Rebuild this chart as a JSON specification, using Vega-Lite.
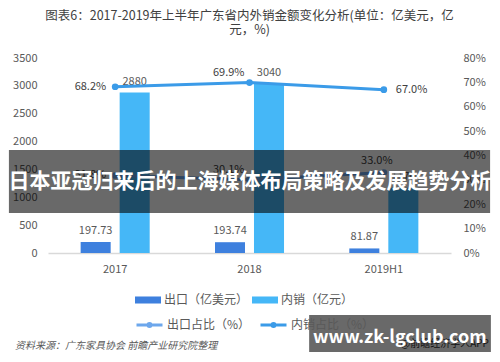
{
  "$schema": "https://vega.github.io/schema/vega-lite/v6.json",
  "width": 403,
  "height": 195,
  "autosize": {"type": "none"},
  "padding": {"left": 48, "top": 58, "right": 49, "bottom": 109},
  "background": "white",
  "config": {
    "font": "Noto Sans CJK SC",
    "view": {"stroke": null},
    "axis": {"labelFont": "Noto Sans CJK SC", "labelFontSize": 11, "labelColor": "#595959", "grid": false, "ticks": false, "title": null},
    "legend": {"padding": 0}
  },
  "title": {
    "text": ["图表6：2017-2019年上半年广东省内外销金额变化分析(单位：亿美元，亿", "元，%)"],
    "fontSize": 12.5,
    "fontWeight": "normal",
    "color": "#404040",
    "anchor": "middle",
    "offset": 16,
    "lineHeight": 14
  },
  "data": {
    "values": [
      {"year": "2017", "出口": 197.73, "内销": 2880, "出口占比": 0.318, "内销占比": 0.682},
      {"year": "2018", "出口": 193.74, "内销": 3040, "出口占比": 0.301, "内销占比": 0.699},
      {"year": "2019H1", "出口": 81.87, "内销": 1170, "出口占比": 0.330, "内销占比": 0.670}
    ]
  },
  "layer": [
    {
      "layer": [
        {
          "transform": [{"fold": ["出口", "内销"], "as": ["series", "amount"]}],
          "layer": [
            {
              "mark": {"type": "bar"},
              "encoding": {
                "fill": {
                  "field": "series", "type": "nominal",
                  "scale": {"domain": ["出口", "内销"], "range": ["#3e80de", "#45b7f7"]},
                  "legend": {
                    "orient": "none", "legendX": 87, "legendY": 229, "direction": "horizontal", "columns": 2, "title": null,
                    "symbolType": "M-1,-0.27H1V0.27H-1Z", "symbolSize": 676, "symbolStrokeWidth": 0,
                    "labelFontSize": 12, "labelColor": "#595959", "labelOffset": 3, "columnPadding": 3,
                    "labelExpr": "datum.label == '出口' ? '出口（亿美元）' : '内销（亿元）'"
                  }
                }
              }
            },
            {
              "mark": {"type": "text", "baseline": "bottom", "dy": -6, "fontSize": 11, "color": "#595959"},
              "encoding": {"text": {"field": "amount", "type": "nominal"}}
            }
          ],
          "encoding": {
            "x": {
              "field": "year", "type": "nominal", "sort": null,
              "scale": {"paddingInner": 0.486, "paddingOuter": 0.243},
              "axis": {"labelAngle": 0, "domainColor": "#d9d9d9", "domainWidth": 1.5, "labelPadding": 10, "orient": "bottom"}
            },
            "xOffset": {"field": "series", "type": "nominal", "sort": ["出口", "内销"], "scale": {"paddingInner": 0.23, "paddingOuter": 0}},
            "y": {
              "field": "amount", "type": "quantitative",
              "scale": {"domain": [0, 3500]},
              "axis": {"orient": "left", "format": "d", "values": [0, 500, 1000, 1500, 2000, 2500, 3000, 3500], "domain": false, "labelPadding": 11}
            }
          }
        },
        {
          "transform": [{"fold": ["出口占比", "内销占比"], "as": ["share_series", "share"]}],
          "encoding": {
            "x": {"field": "year", "type": "nominal", "sort": null},
            "y": {
              "field": "share", "type": "quantitative",
              "scale": {"domain": [0, 0.8]},
              "axis": {"orient": "right", "format": ".0%", "values": [0, 0.1, 0.2, 0.3, 0.4, 0.5, 0.6, 0.7, 0.8], "domain": false, "labelPadding": 12}
            }
          },
          "layer": [
            {
              "mark": {"type": "line", "strokeWidth": 3},
              "encoding": {
                "color": {
                  "field": "share_series", "type": "nominal",
                  "scale": {"domain": ["出口占比", "内销占比"], "range": ["#6da7ec", "#3b9be8"]},
                  "legend": {
                    "orient": "none", "legendX": 87, "legendY": 252, "direction": "horizontal", "columns": 2, "title": null,
                    "symbolType": "M-1,0H1M0.12,0A0.12,0.12,0,1,1,-0.12,0A0.12,0.12,0,1,1,0.12,0",
                    "symbolSize": 676, "symbolStrokeWidth": 3,
                    "labelFontSize": 12, "labelColor": "#595959", "labelOffset": 3, "columnPadding": 3,
                    "labelExpr": "datum.label == '出口占比' ? '出口占比（%）' : '内销占比（%）'"
                  }
                }
              }
            },
            {
              "mark": {"type": "point", "filled": true, "size": 45, "opacity": 1},
              "encoding": {"color": {"field": "share_series", "type": "nominal"}}
            },
            {
              "transform": [{"filter": "datum.year == '2017'"}],
              "mark": {"type": "text", "align": "right", "baseline": "middle", "dx": -9, "fontSize": 11, "color": "#404040"},
              "encoding": {"text": {"field": "share", "type": "quantitative", "format": ".1%"}}
            },
            {
              "transform": [{"filter": "datum.year == '2018'"}],
              "mark": {"type": "text", "align": "right", "baseline": "bottom", "dx": -5, "dy": -5, "fontSize": 11, "color": "#404040"},
              "encoding": {"text": {"field": "share", "type": "quantitative", "format": ".1%"}}
            },
            {
              "transform": [{"filter": "datum.year == '2019H1' && datum.share_series == '内销占比'"}],
              "mark": {"type": "text", "align": "left", "baseline": "middle", "dx": 12, "fontSize": 11, "color": "#404040"},
              "encoding": {"text": {"field": "share", "type": "quantitative", "format": ".1%"}}
            },
            {
              "transform": [{"filter": "datum.year == '2019H1' && datum.share_series == '出口占比'"}],
              "mark": {"type": "text", "align": "center", "baseline": "bottom", "dx": -7, "dy": -7, "fontSize": 11, "color": "#404040"},
              "encoding": {"text": {"field": "share", "type": "quantitative", "format": ".1%"}}
            }
          ]
        }
      ],
      "resolve": {"scale": {"y": "independent"}}
    },
    {
      "data": {"values": [{}]},
      "layer": [
        {
          "mark": {"type": "text", "align": "left", "baseline": "middle", "fontSize": 10, "fontStyle": "italic", "color": "#595959", "text": "资料来源：广东家具协会 前瞻产业研究院整理"},
          "encoding": {
            "x": {"datum": -0.082, "type": "quantitative", "scale": {"domain": [0, 1]}, "axis": null},
            "y": {"datum": -0.477, "type": "quantitative", "scale": {"domain": [0, 1]}, "axis": null}
          }
        },
        {
          "mark": {"type": "text", "align": "right", "baseline": "middle", "fontSize": 10, "color": "#333333", "text": "@前瞻经济学人APP"},
          "encoding": {
            "x": {"datum": 1.094, "type": "quantitative", "axis": null},
            "y": {"datum": -0.467, "type": "quantitative", "axis": null}
          }
        },
        {
          "mark": {"type": "rect", "color": "#000000", "opacity": 0.59},
          "encoding": {
            "x": {"datum": -0.097, "type": "quantitative", "axis": null},
            "x2": {"datum": 1.097},
            "y": {"datum": 0.528, "type": "quantitative", "axis": null},
            "y2": {"datum": 0.205}
          }
        },
        {
          "mark": {"type": "text", "align": "center", "baseline": "middle", "fontSize": 21, "fontWeight": "bold", "color": "#ffffff", "text": "日本亚冠归来后的上海媒体布局策略及发展趋势分析"},
          "encoding": {
            "x": {"datum": 0.501, "type": "quantitative", "axis": null},
            "y": {"datum": 0.364, "type": "quantitative", "axis": null}
          }
        },
        {
          "mark": {"type": "rect", "color": "#000000", "opacity": 0.59},
          "encoding": {
            "x": {"datum": 0.648, "type": "quantitative", "axis": null},
            "x2": {"datum": 1.099},
            "y": {"datum": -0.318, "type": "quantitative", "axis": null},
            "y2": {"datum": -0.508}
          }
        },
        {
          "mark": {"type": "text", "align": "center", "baseline": "middle", "fontSize": 18, "fontWeight": "bold", "color": "#ffffff", "text": "www.zk-lgclub.com"},
          "encoding": {
            "x": {"datum": 0.873, "type": "quantitative", "axis": null},
            "y": {"datum": -0.436, "type": "quantitative", "axis": null}
          }
        }
      ]
    }
  ],
  "resolve": {"scale": {"x": "independent", "y": "independent"}}
}
